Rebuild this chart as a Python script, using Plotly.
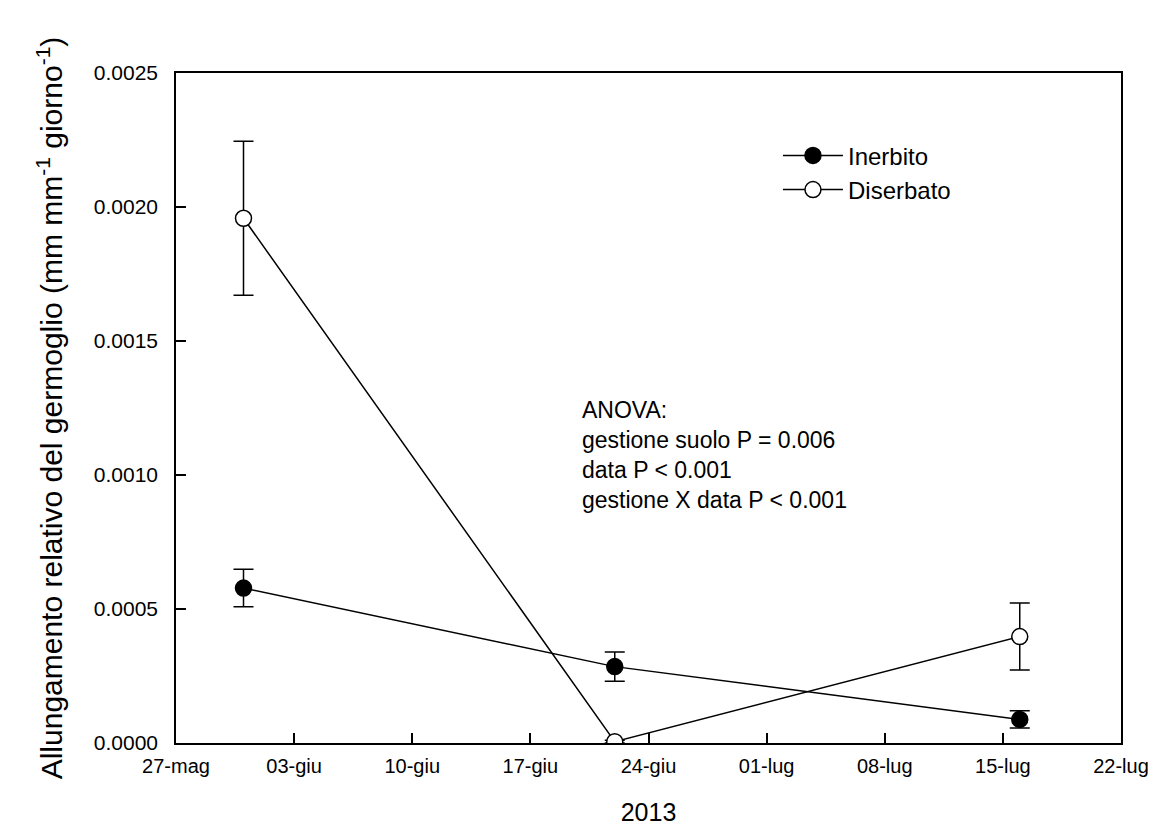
import plotly.graph_objects as go

dates = ["2013-05-31", "2013-06-22", "2013-07-16"]
inerbito = [0.000578, 0.000285, 0.000088]
inerbito_err = [0.000070, 0.000055, 0.000032]
diserbato = [0.001958, 0.000005, 0.000397]
diserbato_err = [0.000287, 0.000005, 0.000125]

tick_vals = ["2013-05-27", "2013-06-03", "2013-06-10", "2013-06-17", "2013-06-24",
             "2013-07-01", "2013-07-08", "2013-07-15", "2013-07-22"]
tick_text = ["27-mag", "03-giu", "10-giu", "17-giu", "24-giu",
             "01-lug", "08-lug", "15-lug", "22-lug"]
y_ticks = [0.0, 0.0005, 0.0010, 0.0015, 0.0020, 0.0025]

FONT = "Liberation Sans, Arial, sans-serif"

fig = go.Figure()
fig.add_trace(go.Scatter(
    x=dates, y=inerbito, name="Inerbito", mode="lines+markers",
    line=dict(color="black", width=1.5),
    marker=dict(symbol="circle", size=16, color="black", line=dict(color="black", width=1.5)),
    error_y=dict(type="data", array=inerbito_err, color="black", thickness=1.5, width=10),
))
fig.add_trace(go.Scatter(
    x=dates, y=diserbato, name="Diserbato", mode="lines+markers",
    line=dict(color="black", width=1.5),
    marker=dict(symbol="circle", size=16, color="white", line=dict(color="black", width=1.5)),
    error_y=dict(type="data", array=diserbato_err, color="black", thickness=1.5, width=10),
))

fig.add_annotation(
    xref="paper", yref="paper", x=0.428, y=0.52, xanchor="left", yanchor="top",
    align="left", showarrow=False,
    text="ANOVA:<br>gestione suolo P = 0.006<br>data P < 0.001<br>gestione X data P < 0.001",
    font=dict(family=FONT, size=23, color="black"),
)

fig.update_layout(
    width=1156, height=835,
    margin=dict(l=168, r=43, t=65, b=100),
    paper_bgcolor="white", plot_bgcolor="white",
    showlegend=True,
    legend=dict(x=0.637, y=0.91, xanchor="left", yanchor="top",
                font=dict(family=FONT, size=24, color="black"),
                bgcolor="rgba(0,0,0,0)", itemwidth=60, tracegroupgap=0),
    font=dict(family=FONT, color="black"),
)
fig.update_xaxes(
    type="date", range=["2013-05-27", "2013-07-22"],
    tickvals=tick_vals, ticktext=tick_text,
    ticks="inside", ticklen=10, tickwidth=1.5, tickcolor="black",
    showline=True, linecolor="black", linewidth=1.5, mirror=True,
    showgrid=False, zeroline=False, ticklabelstandoff=4,
    tickfont=dict(family=FONT, size=20, color="black"),
    title=dict(text="2013", font=dict(family=FONT, size=25, color="black"), standoff=28),
)
fig.update_yaxes(
    range=[0, 0.0025], tickvals=y_ticks, tickformat=".4f",
    ticks="inside", ticklen=10, tickwidth=1.5, tickcolor="black",
    showline=True, linecolor="black", linewidth=1.5, mirror=True,
    showgrid=False, zeroline=False, ticklabelstandoff=12,
    tickfont=dict(family=FONT, size=21, color="black"),
    title=dict(text="Allungamento relativo del germoglio (mm mm<sup>-1</sup> giorno<sup>-1</sup>)",
               font=dict(family=FONT, size=30, color="black"), standoff=22),
)

fig.write_html("out.html")
